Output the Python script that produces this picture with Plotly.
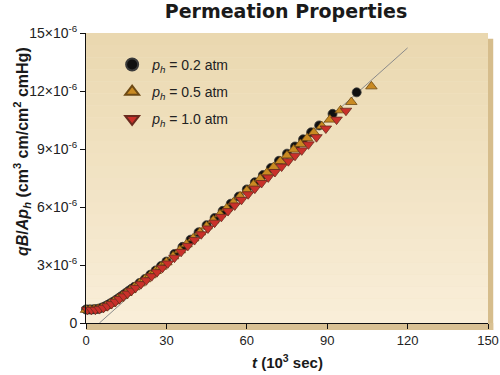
import plotly.graph_objects as go

# ---- data (t in 10^3 s, qB/Ap_h in 10^-6 cm3 cm/cm2 cmHg) ----
t_02 = [0, 1, 2, 3, 4, 5, 6, 7, 8, 9, 10, 11, 12, 13, 14, 15, 16, 17, 18, 20, 22, 24, 26, 28,
        30, 33, 36, 39, 42, 45, 48, 51, 54, 57, 60, 63, 66, 69, 72, 75, 78, 81, 84, 87, 92, 101]
v_02 = [0.70, 0.70, 0.70, 0.71, 0.72, 0.75, 0.80, 0.86, 0.93, 1.01, 1.09, 1.18, 1.27, 1.37, 1.47,
        1.57, 1.67, 1.77, 1.87, 2.07, 2.28, 2.50, 2.72, 2.95, 3.18, 3.57, 3.94, 4.31, 4.69, 5.06,
        5.43, 5.80, 6.17, 6.54, 6.91, 7.28, 7.65, 8.02, 8.39, 8.76, 9.13, 9.50, 9.86, 10.22, 10.82, 11.93]

t_05 = [0, 1.5, 3, 4.5, 6, 7.5, 9, 10.5, 12, 13.5, 15, 16.5, 18, 20, 22, 24, 26, 28, 30, 32.5,
        35, 37.5, 40, 42.5, 45, 47.5, 50, 52.5, 55, 57.5, 60, 62.5, 65, 67.5, 70, 72.5, 75, 77.5,
        80, 82.5, 85, 88, 91, 95, 99, 106.5]
v_05 = [0.68, 0.69, 0.70, 0.73, 0.79, 0.88, 0.99, 1.12, 1.26, 1.40, 1.55, 1.70, 1.85, 2.05, 2.26,
        2.47, 2.69, 2.91, 3.14, 3.45, 3.76, 4.07, 4.38, 4.69, 5.00, 5.31, 5.62, 5.93, 6.24, 6.55,
        6.85, 7.16, 7.46, 7.77, 8.07, 8.37, 8.67, 8.97, 9.26, 9.56, 9.85, 10.18, 10.52, 11.00, 11.43, 12.24]

t_10 = [0.5, 2, 3.5, 5, 6.5, 8, 9.5, 11, 12.5, 14, 15.5, 17, 18.5, 20.5, 22.5, 24.5, 26.5, 28.5,
        30.5, 33, 35.5, 38, 40.5, 43, 45.5, 48, 50.5, 53, 55.5, 58, 60.5, 63, 65.5, 68, 70.5, 73,
        75.5, 78, 80.5, 83, 86, 89.5, 93.5, 97]
v_10 = [0.68, 0.68, 0.69, 0.72, 0.78, 0.87, 0.98, 1.10, 1.24, 1.38, 1.52, 1.67, 1.82, 2.01, 2.21,
        2.42, 2.63, 2.85, 3.08, 3.38, 3.68, 3.99, 4.29, 4.59, 4.89, 5.19, 5.49, 5.79, 6.08, 6.37,
        6.66, 6.95, 7.24, 7.53, 7.81, 8.09, 8.37, 8.65, 8.93, 9.24, 9.61, 10.06, 10.52, 10.98]

t_fit = [5.0, 120.0]
v_fit = [0.0, 14.23]

x_ticks = [0, 30, 60, 90, 120, 150]
y_ticks = [0, 3, 6, 9, 12, 15]
y_ticktext = ["0"] + [f"{v}×10<sup>-6</sup>" for v in y_ticks[1:]]

FONT = "Liberation Sans, Arial, sans-serif"

fig = go.Figure()

fig.add_trace(go.Scatter(x=t_fit, y=v_fit, mode="lines", line=dict(color="#8a8a8a", width=1),
                         showlegend=False, hoverinfo="skip"))
fig.add_trace(go.Scatter(x=t_02, y=v_02, mode="markers", name="<i>p</i><sub><i>h</i></sub> = 0.2 atm",
                         legendgroup="a",
                         marker=dict(symbol="circle", size=9, color="#101010",
                                     line=dict(color="#3a3a3a", width=0.8)),
                         cliponaxis=False))
fig.add_trace(go.Scatter(x=t_05, y=v_05, mode="markers", name="<i>p</i><sub><i>h</i></sub> = 0.5 atm",
                         legendgroup="b",
                         marker=dict(symbol="triangle-up", size=10, color="#c98a22",
                                     line=dict(color="#6e4a14", width=0.8)),
                         cliponaxis=False))
fig.add_trace(go.Scatter(x=t_10, y=v_10, mode="markers", name="<i>p</i><sub><i>h</i></sub> = 1.0 atm",
                         legendgroup="c",
                         marker=dict(symbol="triangle-down", size=10, color="#c9302a",
                                     line=dict(color="#6a2a1e", width=0.8)),
                         cliponaxis=False))

# vertical gradient background bands + shadow strips
shapes = []
top = (234, 216, 176)
bot = (249, 238, 216)
n = 24
for i in range(n):
    f = i / (n - 1)
    c = tuple(int(round(top[k] + (bot[k] - top[k]) * f)) for k in range(3))
    y1 = 1 - i / n
    y0 = 1 - (i + 1) / n
    shapes.append(dict(type="rect", xref="paper", yref="paper", x0=0, x1=1, y0=y0, y1=y1,
                       fillcolor=f"rgb{c}", line=dict(width=0), layer="below"))
shapes.append(dict(type="rect", xref="paper", yref="paper", x0=1.0, x1=1.013, y0=-0.024, y1=0.98,
                   fillcolor="#d6bd8c", line=dict(width=0), layer="below"))
shapes.append(dict(type="rect", xref="paper", yref="paper", x0=0, x1=1.013, y0=-0.024, y1=0,
                   fillcolor="#d9c193", line=dict(width=0), layer="below"))

annotations = [
    dict(text="<b><i>qB</i>/<i>Ap</i><sub><i>h</i></sub> (cm<sup>3</sup> cm/cm<sup>2</sup> cmHg)</b>",
         xref="paper", yref="paper", x=-0.159, y=0.59, xanchor="center", yanchor="middle",
         textangle=-90, showarrow=False, font=dict(family=FONT, size=16, color="#1a1a1a")),
    dict(text="<b><i>t</i> (10<sup>3</sup> sec)</b>",
         xref="paper", yref="paper", x=0.502, y=-0.134, xanchor="center", yanchor="middle",
         showarrow=False, font=dict(family=FONT, size=15, color="#1a1a1a")),
]

fig.update_layout(
    width=500, height=375,
    margin=dict(l=86, r=12, t=33, b=52),
    paper_bgcolor="white",
    plot_bgcolor="#f2e4c6",
    shapes=shapes,
    annotations=annotations,
    font=dict(family=FONT, color="#222222", size=13),
    title=dict(text="<b>Permeation Properties</b>", x=0.572, xanchor="center", y=0.97, yanchor="middle",
               pad=dict(t=0, b=0),
               font=dict(family="DejaVu Sans, sans-serif", size=19, color="#1a1a1a")),
    showlegend=True,
    legend=dict(x=0.065, y=0.945, xanchor="left", yanchor="top", bgcolor="rgba(0,0,0,0)",
                font=dict(family=FONT, size=14, color="#222222"), tracegroupgap=6,
                itemsizing="constant"),
    xaxis=dict(range=[0, 150], tickvals=x_ticks, ticks="outside", ticklen=5, tickcolor="#111",
               showline=True, linecolor="#111", linewidth=1, showgrid=False, zeroline=False,
               automargin=False, tickfont=dict(size=13, color="#222")),
    yaxis=dict(range=[0, 15], tickvals=y_ticks, ticktext=y_ticktext, ticks="outside", ticklen=5,
               tickcolor="#111", showline=True, linecolor="#111", linewidth=1, showgrid=False,
               zeroline=False, automargin=False, tickfont=dict(size=14, color="#222")),
)

fig.write_html("out.html", config={"displayModeBar": False},
               post_script="document.body.style.margin='0px';")
